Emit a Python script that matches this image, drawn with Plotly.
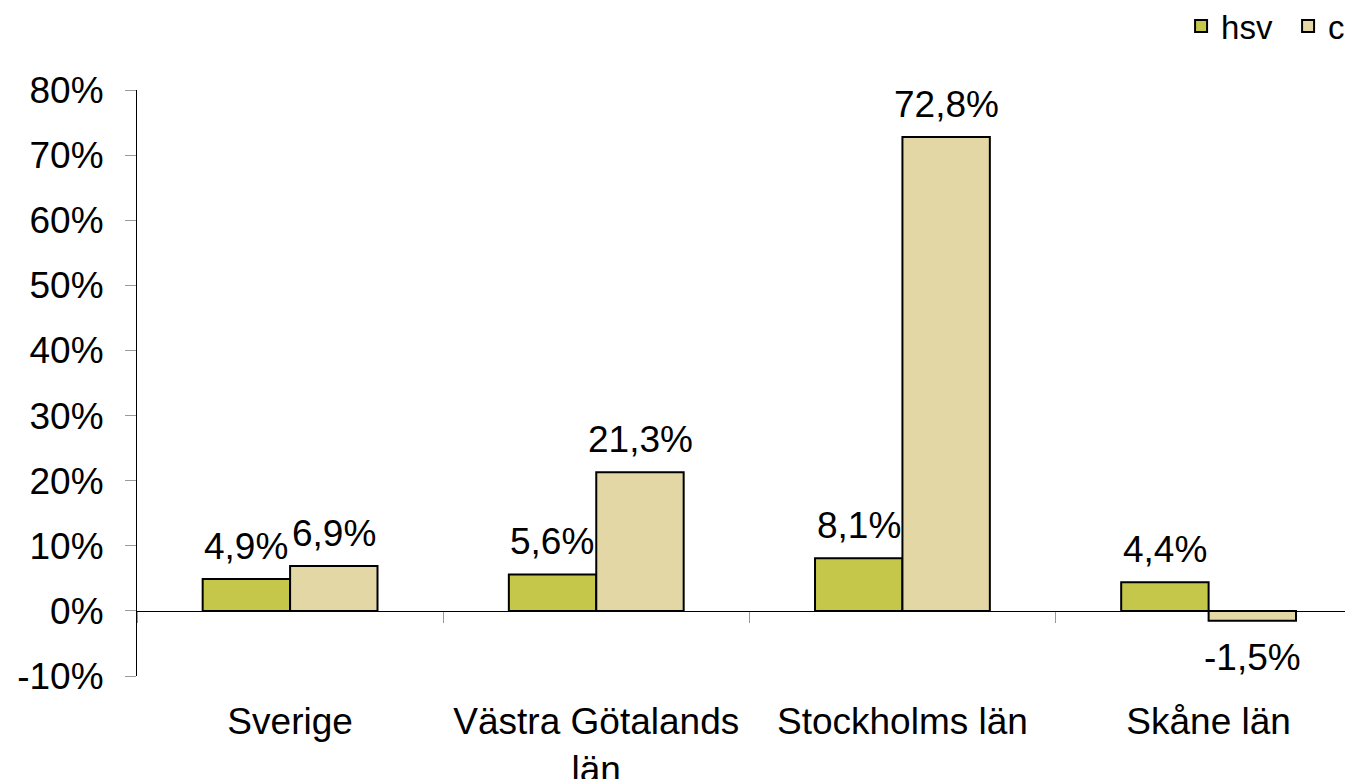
import plotly.graph_objects as go

categories = ["Sverige", "Västra Götalands<br>län", "Stockholms län", "Skåne län"]
series_names = ["hsv", "csn"]
hsv_values = [4.9, 5.6, 8.1, 4.4]
csn_values = [6.9, 21.3, 72.8, -1.5]
y_tick_values = [-10, 0, 10, 20, 30, 40, 50, 60, 70, 80]
y_tick_labels = ["-10%", "0%", "10%", "20%", "30%", "40%", "50%", "60%", "70%", "80%"]

colors = ["#C5C74B", "#E2D7A5"]
FONT = "Liberation Sans, Arial, sans-serif"


def fmt(v):
    return f"{v:.1f}".replace(".", ",") + "%"


fig = go.Figure()
for name, vals, col in zip(series_names, [hsv_values, csn_values], colors):
    fig.add_trace(go.Bar(
        x=categories, y=vals, name=name,
        marker=dict(color=col, line=dict(color="black", width=2)),
    ))

W, H = 1345, 779
left, top, bottom = 136.5, 90, 103
cat_w = 306.3
plot_w = W - left
x_max = -0.5 + plot_w / cat_w

# data labels as annotations, positioned through the axes
half = 43.8
for vals, sgn in zip([hsv_values, csn_values], [-1, 1]):
    for c, v in zip(categories, vals):
        fig.add_annotation(
            x=c, y=v, xref="x", yref="y", text=fmt(v), showarrow=False,
            xshift=sgn * half,
            yanchor="bottom" if v >= 0 else "top",
            yshift=10 if v >= 0 else -14,
            font=dict(family=FONT, size=37, color="black"),
        )

fig.update_layout(
    width=W, height=H,
    margin=dict(l=left, r=0, t=top, b=bottom, autoexpand=False),
    paper_bgcolor="white", plot_bgcolor="white",
    font=dict(family=FONT, size=37, color="black"),
    barmode="group", bargap=0.429, bargroupgap=0,
    showlegend=True,
    legend=dict(
        orientation="h", x=0.8643, xanchor="left", y=1.109, yanchor="middle",
        font=dict(family=FONT, size=33, color="black"),
        bgcolor="rgba(0,0,0,0)",
        entrywidth=62, entrywidthmode="pixels",
    ),
    xaxis=dict(
        type="category", range=[-0.5, x_max],
        anchor="free", position=1 / 9,
        showline=True, linecolor="black", linewidth=1,
        ticks="outside", tickson="boundaries", ticklen=11, tickcolor="#999999", tickwidth=1,
        showgrid=False, zeroline=False,
        ticklabelstandoff=78,
        tickfont=dict(family=FONT, size=37, color="black"),
    ),
    yaxis=dict(
        range=[-10, 80], tickvals=y_tick_values, ticktext=y_tick_labels,
        showline=True, linecolor="black", linewidth=1,
        ticks="outside", ticklen=11, tickcolor="#999999", tickwidth=1,
        showgrid=False, zeroline=False,
        ticklabelstandoff=14,
        tickfont=dict(family=FONT, size=37, color="black"),
    ),
)

fig.write_html(
    "out.html",
    config={"displayModeBar": False},
    post_script="document.body.style.margin='0px';",
)
